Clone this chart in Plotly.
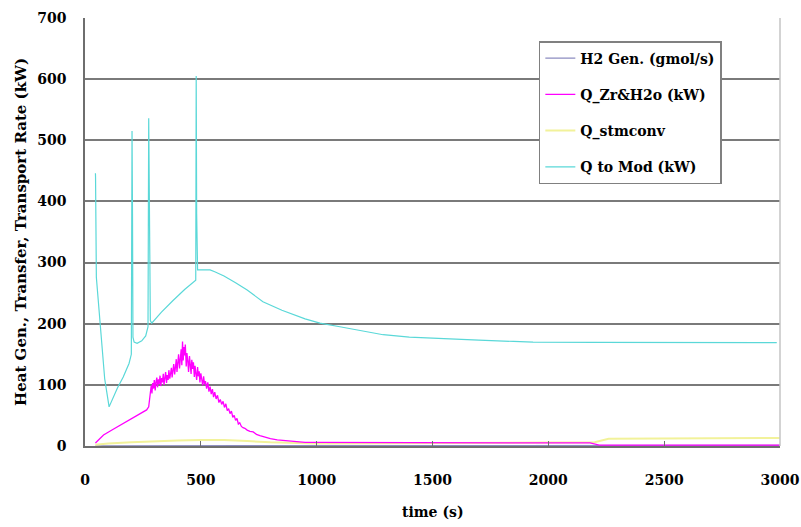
import plotly.graph_objects as go

# ---------------- data ----------------
# Q to Mod (kW)
t_mod = [45, 45.5, 49, 56, 68, 85, 104, 115, 140, 165, 190, 200, 203, 205, 207, 212,
         225, 245, 262, 272, 275, 277, 282, 288, 330, 380, 430, 478, 480, 482, 486,
         510, 540, 560, 600, 650, 700, 768, 850, 950, 1014, 1100, 1200, 1287, 1400,
         1500, 1575, 1700, 1850, 1934, 2200, 2500, 2800, 2986]
v_mod = [446, 440, 276, 245, 194, 110, 64, 74, 95, 113, 135, 150, 515, 380, 178, 170,
         168, 172, 180, 195, 536, 380, 205, 201, 219, 238, 256, 271, 605, 380, 288,
         288, 288, 285, 278, 267, 255, 236, 222, 208, 201, 195, 188, 182, 178,
         176, 175, 173, 171, 170, 169.5, 169, 169, 169]

# Q_Zr&H2o (kW)
t_zr = [45, 80, 120, 160, 207, 240, 266, 275, 280, 283, 286, 289, 292, 296, 299, 303,
        306, 310, 313, 317, 320, 324, 327, 331, 334, 338, 341, 345, 348, 352, 355,
        359, 362, 366, 369, 373, 376, 380, 383, 387, 390, 394, 397, 401, 404, 408,
        411, 415, 418, 421, 424, 427, 430, 433, 437, 440, 444, 447, 451, 454, 458,
        461, 465, 468, 472, 475, 479, 482, 486, 489, 493, 496, 500, 504, 508, 512,
        516, 520, 525, 530, 535, 540, 545, 550, 555, 560, 566, 572, 578, 584, 590,
        596, 602, 608, 614, 620, 626, 632, 638, 644, 650, 656, 662, 668, 675, 682,
        690, 700, 712, 726, 740, 755, 770, 784, 800, 830, 860, 885, 920, 950, 1000,
        1500, 2000, 2180, 2220, 2600, 3000]
v_zr = [5, 18, 27, 36, 46, 53, 59, 64, 76, 90, 99, 86, 103, 94, 108, 91,
        104, 112, 96, 109, 101, 115, 98, 111, 104, 118, 100, 113, 121, 103, 116,
        108, 124, 110, 119, 128, 112, 126, 134, 117, 131, 142, 121, 138, 150, 127,
        146, 158, 132, 171, 140, 162, 148, 166, 130, 152, 138, 121, 147, 133, 118,
        141, 126, 137, 113, 131, 120, 108, 129, 114, 122, 104, 119, 109, 99, 114,
        101, 106, 94, 104, 89, 97, 85, 93, 80, 88, 77, 83, 71, 76, 68,
        73, 63, 69, 58, 61, 53, 57, 47, 50, 42, 45, 36, 38, 32, 30,
        29, 26, 24, 23, 19, 17, 15, 13, 12, 10, 9, 7, 7, 6, 6,
        5, 5, 5, 1.5, 1.5, 1.5]

# Q_stmconv
t_stm = [45, 100, 200, 300, 400, 500, 600, 700, 800, 1000, 1500, 2000, 2200, 2260, 2600, 3000]
v_stm = [2, 4, 6, 8, 9, 10, 10, 8, 6, 4, 5, 6, 6, 12, 12, 13]

# H2 Gen. (gmol/s)
t_h2 = [45, 300, 450, 700, 1000, 2200, 2230, 3000]
v_h2 = [0.2, 0.8, 1.2, 0.6, 0.4, 0.4, 0.8, 0.8]

names = ["H2 Gen. (gmol/s)", "Q_Zr&H2o (kW)", "Q_stmconv", "Q to Mod (kW)"]
x_ticks = [0, 500, 1000, 1500, 2000, 2500, 3000]
y_ticks = [0, 100, 200, 300, 400, 500, 600, 700]
x_title = "time (s)"
y_title = "Heat Gen., Transfer, Transport Rate (kW)"

FONT = "DejaVu Serif"

fig = go.Figure()
fig.add_trace(go.Scatter(x=t_h2, y=v_h2, mode="lines", name=names[0], legendgroup="a",
                         line=dict(color="#8c8cc0", width=1.3), legendrank=1))
fig.add_trace(go.Scatter(x=t_stm, y=v_stm, mode="lines", name=names[2], legendgroup="c",
                         line=dict(color="#f2f29a", width=2), legendrank=3))
fig.add_trace(go.Scatter(x=t_zr, y=v_zr, mode="lines", name=names[1], legendgroup="b",
                         line=dict(color="#ff00ff", width=1.3), legendrank=2))
fig.add_trace(go.Scatter(x=t_mod, y=v_mod, mode="lines", name=names[3], legendgroup="d",
                         line=dict(color="#5ad8d8", width=1.2), legendrank=4))

fig.add_shape(type="line", xref="paper", yref="paper", x0=1, x1=1, y0=0, y1=1,
              line=dict(color="#c4c4c4", width=1.5))

fig.add_annotation(text=x_title, xref="paper", yref="paper", x=0.5, y=0,
                   xanchor="center", yanchor="middle", yshift=-66, showarrow=False,
                   font=dict(family=FONT, size=14, color="black", weight="bold"))
fig.add_annotation(text=y_title, xref="paper", yref="paper", x=0, y=0.5,
                   xanchor="center", yanchor="middle", xshift=-64, textangle=-90,
                   showarrow=False,
                   font=dict(family=FONT, size=15, color="black", weight="bold"))

fig.update_layout(
    width=801, height=527,
    margin=dict(l=85, r=21, t=18, b=81),
    paper_bgcolor="white", plot_bgcolor="white",
    font=dict(family=FONT, size=14, color="black", weight="bold"),
    showlegend=True,
    legend=dict(x=0.653, y=0.946, xanchor="left", yanchor="top",
                bgcolor="white", bordercolor="#808080", borderwidth=1.5,
                font=dict(family=FONT, size=14, color="black", weight="bold"),
                tracegroupgap=15, traceorder="grouped", itemwidth=30),
    xaxis=dict(range=[0, 3000], tickvals=x_ticks, ticktext=[str(v) for v in x_ticks],
               showgrid=False, zeroline=False, showline=True, linecolor="#6e6e6e",
               linewidth=1.5, ticks="inside", ticklen=5, tickcolor="#6e6e6e",
               ticklabelstandoff=20, automargin=False),
    yaxis=dict(range=[0, 700], tickvals=y_ticks, ticktext=[str(v) for v in y_ticks],
               showgrid=True, gridcolor="#7a7a7a", gridwidth=1.5, zeroline=False,
               showline=True, linecolor="#6e6e6e", linewidth=1.5, ticks="",
               ticklabelstandoff=14, automargin=False),
)

fig.write_html("out.html")
